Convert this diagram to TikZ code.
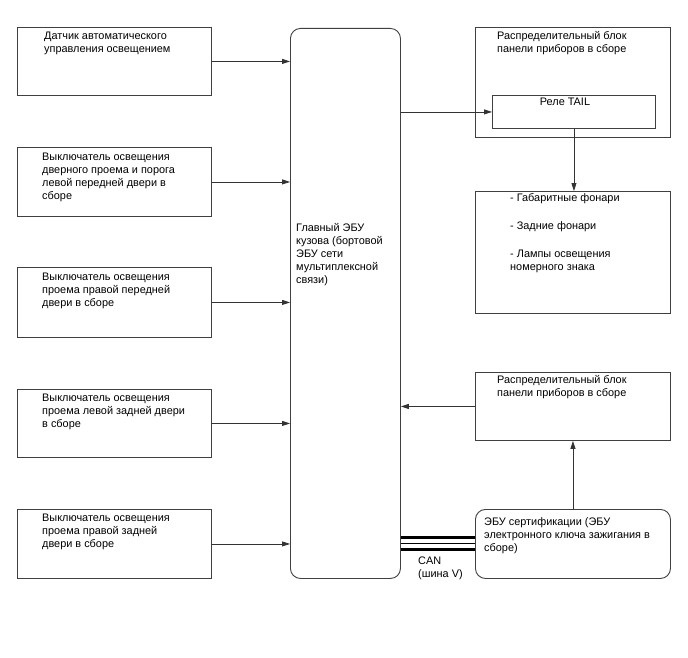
\documentclass[tikz,border=0pt]{standalone}
\usepackage{fontspec}
\setmainfont{Liberation Sans}
\usetikzlibrary{arrows.meta}
\begin{document}
\begin{tikzpicture}[x=1pt,y=-1pt,
  box/.style={draw=black!75,line width=0.9pt,rectangle,anchor=north west,inner sep=0pt},
  rbox/.style={box,rounded corners=10pt},
  txt/.style={anchor=north west,inner sep=0pt,align=left,font=\fontsize{10.9}{13}\selectfont},
  arr/.style={draw=black!80,line width=0.8pt,-{Triangle[length=8pt,width=5pt]}},
  can/.style={line width=2.6pt,black}]
\path[use as bounding box,fill=white] (0,0) rectangle (688,658);

% left boxes
\node[box,minimum width=194pt,minimum height=68pt] (b1) at (17,27) {};
\node[box,minimum width=194pt,minimum height=69pt] (b2) at (17,147) {};
\node[box,minimum width=194pt,minimum height=70pt] (b3) at (17,267) {};
\node[box,minimum width=194pt,minimum height=68pt] (b4) at (17,389) {};
\node[box,minimum width=194pt,minimum height=69pt] (b5) at (17,509) {};

\node[txt] (t1) at (44,31.5) {Датчик автоматического\\управления освещением};
\node[txt] (t2) at (42,152.5) {Выключатель освещения\\дверного проема и порога\\левой передней двери в\\сборе};
\node[txt] (t3) at (42,272.5) {Выключатель освещения\\проема правой передней\\двери в сборе};
\node[txt] (t4) at (42,393.5) {Выключатель освещения\\проема левой задней двери\\в сборе};
\node[txt] (t5) at (42,513.5) {Выключатель освещения\\проема правой задней\\двери в сборе};

% main ECU
\node[rbox,minimum width=110pt,minimum height=550pt] (main) at (290,28) {};
\node[txt] (tm) at (296,223.5) {Главный ЭБУ\\кузова (бортовой\\ЭБУ сети\\мультиплексной\\связи)};

% right side
\node[box,minimum width=195pt,minimum height=110pt] (jb1) at (475,27) {};
\node[txt] (tjb1) at (497,31.5) {Распределительный блок\\панели приборов в сборе};
\node[box,minimum width=163pt,minimum height=33pt] (relay) at (492,95) {};
\node[anchor=north,inner sep=0pt,font=\fontsize{10.9}{13}\selectfont] (trelay) at (565,98) {Реле TAIL};

\node[box,minimum width=195pt,minimum height=122pt] (lamps) at (475,191) {};
\node[txt] (tl1) at (510,193.5) {- Габаритные фонари};
\node[txt] (tl2) at (510,221.5) {- Задние фонари};
\node[txt] (tl3) at (510,249.5) {- Лампы освещения\\номерного знака};

\node[box,minimum width=195pt,minimum height=68pt] (jb2) at (475,372) {};
\node[txt] (tjb2) at (497,375.5) {Распределительный блок\\панели приборов в сборе};

\node[rbox,minimum width=195pt,minimum height=69pt] (cert) at (475,509) {};
\node[txt] (tcert) at (484,517.5) {ЭБУ сертификации (ЭБУ\\электронного ключа зажигания в\\сборе)};

\node[txt] (tcan) at (418,556.5) {CAN\\(шина V)};

% connectors
\foreach \b in {b1,b2,b3,b4,b5}
  \draw[arr] (\b.east) -- (\b.east -| main.west);
\draw[arr] (relay.west -| main.east) -- (relay.west);
\draw[arr] (relay.south) -- (relay.south |- lamps.north);
\draw[arr] (jb2.west) -- (jb2.west -| main.east);
\draw[arr] (cert.north) -- (cert.north |- jb2.south);

\draw[can] ([yshift=6.5pt]cert.west) -- ([yshift=6.5pt]cert.west -| main.east);
\draw[black,line width=0.9pt] ([yshift=0.5pt]cert.west) -- ([yshift=0.5pt]cert.west -| main.east);
\draw[can] ([yshift=-5.5pt]cert.west) -- ([yshift=-5.5pt]cert.west -| main.east);
\end{tikzpicture}
\end{document}
